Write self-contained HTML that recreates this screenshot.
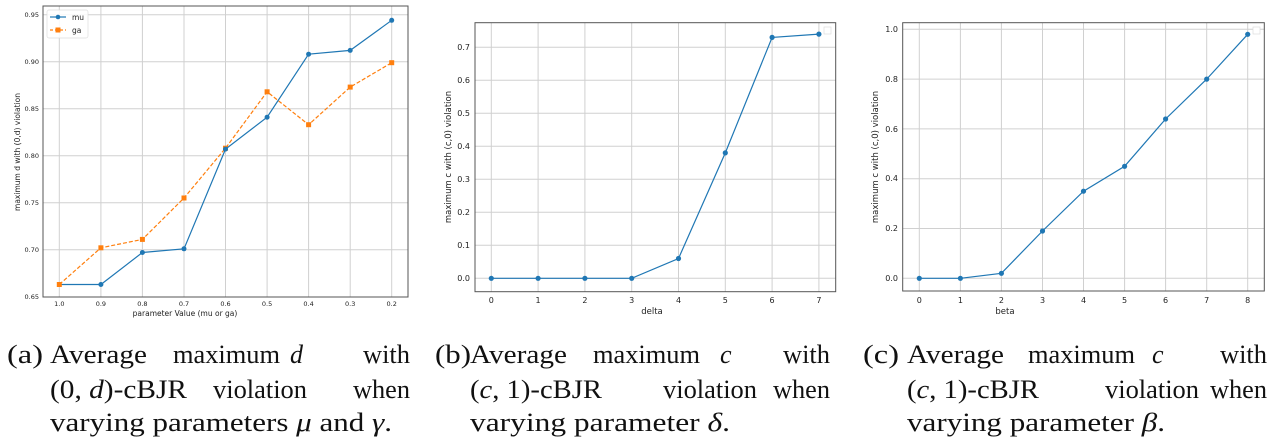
<!DOCTYPE html>
<html><head><meta charset="utf-8"><style>
html,body{margin:0;padding:0;background:#fff;width:1275px;height:439px;overflow:hidden}
svg{display:block}
.t{font-family:"DejaVu Sans","Liberation Sans",sans-serif;fill:#222}
.c{font-family:"Liberation Serif",serif;font-size:26px;fill:#111}
.g{stroke:#d0d0d0;stroke-width:1}
</style></head><body>
<svg width="1275" height="439" viewBox="0 0 1275 439" xmlns="http://www.w3.org/2000/svg">
<!-- Chart A -->
<g>
<g class="g">
<line x1="59.3" y1="6" x2="59.3" y2="297"/><line x1="100.9" y1="6" x2="100.9" y2="297"/><line x1="142.4" y1="6" x2="142.4" y2="297"/><line x1="184" y1="6" x2="184" y2="297"/><line x1="225.5" y1="6" x2="225.5" y2="297"/><line x1="267.1" y1="6" x2="267.1" y2="297"/><line x1="308.6" y1="6" x2="308.6" y2="297"/><line x1="350.2" y1="6" x2="350.2" y2="297"/><line x1="391.7" y1="6" x2="391.7" y2="297"/>
<line x1="43" y1="249.7" x2="408" y2="249.7"/><line x1="43" y1="202.7" x2="408" y2="202.7"/><line x1="43" y1="155.7" x2="408" y2="155.7"/><line x1="43" y1="108.7" x2="408" y2="108.7"/><line x1="43" y1="61.7" x2="408" y2="61.7"/><line x1="43" y1="14.7" x2="408" y2="14.7"/>
</g>
<rect x="43" y="6" width="365" height="291" fill="none" stroke="#555" stroke-width="1"/>
<g class="t" font-size="6.5" text-anchor="end">
<text x="39" y="299">0.65</text><text x="39" y="252">0.70</text><text x="39" y="205">0.75</text><text x="39" y="158">0.80</text><text x="39" y="111">0.85</text><text x="39" y="64">0.90</text><text x="39" y="17">0.95</text>
</g>
<g class="t" font-size="6.5" text-anchor="middle">
<text x="59.3" y="306">1.0</text><text x="100.9" y="306">0.9</text><text x="142.4" y="306">0.8</text><text x="184" y="306">0.7</text><text x="225.5" y="306">0.6</text><text x="267.1" y="306">0.5</text><text x="308.6" y="306">0.4</text><text x="350.2" y="306">0.3</text><text x="391.7" y="306">0.2</text>
<text x="185" y="316" font-size="7.5">parameter Value (mu or ga)</text>
</g>
<text class="t" font-size="7.5" text-anchor="middle" transform="translate(20,152) rotate(-90)">maximum d with (0,d) violation</text>
<polyline fill="none" stroke="#ff7f0e" stroke-width="1.2" stroke-dasharray="4,2" points="59.3,284.5 100.9,247.8 142.4,239.4 184,198 225.5,148.2 267.1,91.8 308.6,124.7 350.2,87.1 391.7,62.7"/>
<g fill="#ff7f0e">
<rect x="98.4" y="245.3" width="5" height="5"/><rect x="139.9" y="236.9" width="5" height="5"/><rect x="181.5" y="195.5" width="5" height="5"/><rect x="223" y="145.7" width="5" height="5"/><rect x="264.6" y="89.3" width="5" height="5"/><rect x="306.1" y="122.2" width="5" height="5"/><rect x="347.7" y="84.6" width="5" height="5"/><rect x="389.2" y="60.2" width="5" height="5"/>
</g>
<polyline fill="none" stroke="#1f77b4" stroke-width="1.2" points="59.3,284.5 100.9,284.5 142.4,252.5 184,248.8 225.5,149.1 267.1,117.2 308.6,54.2 350.2,50.4 391.7,20.3"/>
<g fill="#1f77b4">
<circle cx="100.9" cy="284.5" r="2.5"/><circle cx="142.4" cy="252.5" r="2.5"/><circle cx="184" cy="248.8" r="2.5"/><circle cx="225.5" cy="149.1" r="2.5"/><circle cx="267.1" cy="117.2" r="2.5"/><circle cx="308.6" cy="54.2" r="2.5"/><circle cx="350.2" cy="50.4" r="2.5"/><circle cx="391.7" cy="20.3" r="2.5"/>
</g>
<rect x="56.8" y="282" width="5" height="5" fill="#ff7f0e"/>
<rect x="47" y="10" width="41" height="28" fill="#fff" fill-opacity="0.85" stroke="#ddd" stroke-width="0.7" rx="2"/>
<line x1="50" y1="17" x2="66" y2="17" stroke="#1f77b4" stroke-width="1.2"/><circle cx="58" cy="17" r="2.3" fill="#1f77b4"/>
<line x1="50" y1="30" x2="66" y2="30" stroke="#ff7f0e" stroke-width="1.2" stroke-dasharray="3,2"/><rect x="55.5" y="27.5" width="5" height="5" fill="#ff7f0e"/>
<text class="t" x="72" y="20" font-size="7.5">mu</text><text class="t" x="72" y="33" font-size="7.5">ga</text>
</g>

<!-- Chart B -->
<g>
<g class="g">
<line x1="491.3" y1="22.7" x2="491.3" y2="291.7"/><line x1="538.1" y1="22.7" x2="538.1" y2="291.7"/><line x1="584.9" y1="22.7" x2="584.9" y2="291.7"/><line x1="631.7" y1="22.7" x2="631.7" y2="291.7"/><line x1="678.5" y1="22.7" x2="678.5" y2="291.7"/><line x1="725.3" y1="22.7" x2="725.3" y2="291.7"/><line x1="772.1" y1="22.7" x2="772.1" y2="291.7"/><line x1="818.9" y1="22.7" x2="818.9" y2="291.7"/>
<line x1="475" y1="278.3" x2="835.7" y2="278.3"/><line x1="475" y1="245.3" x2="835.7" y2="245.3"/><line x1="475" y1="212.3" x2="835.7" y2="212.3"/><line x1="475" y1="179.3" x2="835.7" y2="179.3"/><line x1="475" y1="146.3" x2="835.7" y2="146.3"/><line x1="475" y1="113.3" x2="835.7" y2="113.3"/><line x1="475" y1="80.3" x2="835.7" y2="80.3"/><line x1="475" y1="47.3" x2="835.7" y2="47.3"/>
</g>
<rect x="475" y="22.7" width="360.7" height="269" fill="none" stroke="#555" stroke-width="1"/>
<g class="t" font-size="8" text-anchor="end">
<text x="470" y="281">0.0</text><text x="470" y="248">0.1</text><text x="470" y="215">0.2</text><text x="470" y="182">0.3</text><text x="470" y="149">0.4</text><text x="470" y="116">0.5</text><text x="470" y="83">0.6</text><text x="470" y="50">0.7</text>
</g>
<g class="t" font-size="8" text-anchor="middle">
<text x="491.3" y="303">0</text><text x="538.1" y="303">1</text><text x="584.9" y="303">2</text><text x="631.7" y="303">3</text><text x="678.5" y="303">4</text><text x="725.3" y="303">5</text><text x="772.1" y="303">6</text><text x="818.9" y="303">7</text>
<text x="652" y="314" font-size="8.5">delta</text>
</g>
<text class="t" font-size="8.5" text-anchor="middle" transform="translate(451,157) rotate(-90)">maximum c with (c,0) violation</text>
<polyline fill="none" stroke="#1f77b4" stroke-width="1.2" points="491.3,278.3 538.1,278.3 584.9,278.3 631.7,278.3 678.5,258.5 725.3,152.9 772.1,37.4 818.9,34.1"/>
<g fill="#1f77b4">
<circle cx="491.3" cy="278.3" r="2.6"/><circle cx="538.1" cy="278.3" r="2.6"/><circle cx="584.9" cy="278.3" r="2.6"/><circle cx="631.7" cy="278.3" r="2.6"/><circle cx="678.5" cy="258.5" r="2.6"/><circle cx="725.3" cy="152.9" r="2.6"/><circle cx="772.1" cy="37.4" r="2.6"/><circle cx="818.9" cy="34.1" r="2.6"/>
</g>
<rect x="824" y="27" width="7" height="7" fill="#fff" stroke="#ddd" stroke-width="0.7"/>
</g>

<!-- Chart C -->
<g>
<g class="g">
<line x1="919.3" y1="22.7" x2="919.3" y2="291"/><line x1="960.4" y1="22.7" x2="960.4" y2="291"/><line x1="1001.4" y1="22.7" x2="1001.4" y2="291"/><line x1="1042.5" y1="22.7" x2="1042.5" y2="291"/><line x1="1083.5" y1="22.7" x2="1083.5" y2="291"/><line x1="1124.6" y1="22.7" x2="1124.6" y2="291"/><line x1="1165.6" y1="22.7" x2="1165.6" y2="291"/><line x1="1206.7" y1="22.7" x2="1206.7" y2="291"/><line x1="1247.7" y1="22.7" x2="1247.7" y2="291"/>
<line x1="902.7" y1="278.3" x2="1264.3" y2="278.3"/><line x1="902.7" y1="228.5" x2="1264.3" y2="228.5"/><line x1="902.7" y1="178.7" x2="1264.3" y2="178.7"/><line x1="902.7" y1="128.9" x2="1264.3" y2="128.9"/><line x1="902.7" y1="79.1" x2="1264.3" y2="79.1"/><line x1="902.7" y1="29.3" x2="1264.3" y2="29.3"/>
</g>
<rect x="902.7" y="22.7" width="361.6" height="268.3" fill="none" stroke="#555" stroke-width="1"/>
<g class="t" font-size="8" text-anchor="end">
<text x="898" y="281">0.0</text><text x="898" y="231">0.2</text><text x="898" y="181">0.4</text><text x="898" y="132">0.6</text><text x="898" y="82">0.8</text><text x="898" y="32">1.0</text>
</g>
<g class="t" font-size="8" text-anchor="middle">
<text x="919.3" y="303">0</text><text x="960.4" y="303">1</text><text x="1001.4" y="303">2</text><text x="1042.5" y="303">3</text><text x="1083.5" y="303">4</text><text x="1124.6" y="303">5</text><text x="1165.6" y="303">6</text><text x="1206.7" y="303">7</text><text x="1247.7" y="303">8</text>
<text x="1005" y="314" font-size="8.5">beta</text>
</g>
<text class="t" font-size="8.5" text-anchor="middle" transform="translate(878,157) rotate(-90)">maximum c with (c,0) violation</text>
<polyline fill="none" stroke="#1f77b4" stroke-width="1.2" points="919.3,278.3 960.4,278.3 1001.4,273.3 1042.5,231 1083.5,191.2 1124.6,166.3 1165.6,119 1206.7,79.1 1247.7,34.3"/>
<g fill="#1f77b4">
<circle cx="919.3" cy="278.3" r="2.6"/><circle cx="960.4" cy="278.3" r="2.6"/><circle cx="1001.4" cy="273.3" r="2.6"/><circle cx="1042.5" cy="231" r="2.6"/><circle cx="1083.5" cy="191.2" r="2.6"/><circle cx="1124.6" cy="166.3" r="2.6"/><circle cx="1165.6" cy="119" r="2.6"/><circle cx="1206.7" cy="79.1" r="2.6"/><circle cx="1247.7" cy="34.3" r="2.6"/>
</g>
<rect x="1253" y="27" width="7" height="7" fill="#fff" stroke="#ddd" stroke-width="0.7"/>
</g>

<!-- Captions -->
<g class="c">
<text x="7" y="363" textLength="36" lengthAdjust="spacingAndGlyphs">(a)</text>
<text x="50" y="363" textLength="97" lengthAdjust="spacingAndGlyphs">Average</text>
<text x="173" y="363" textLength="107" lengthAdjust="spacingAndGlyphs">maximum</text>
<text x="290" y="363" font-style="italic">d</text>
<text x="363" y="363" textLength="47" lengthAdjust="spacingAndGlyphs">with</text>
<text x="50" y="398" textLength="137" lengthAdjust="spacingAndGlyphs">(0, <tspan font-style="italic">d</tspan>)-cBJR</text>
<text x="213" y="398" textLength="94" lengthAdjust="spacingAndGlyphs">violation</text>
<text x="353" y="398" textLength="57" lengthAdjust="spacingAndGlyphs">when</text>
<text x="50" y="431" textLength="342" lengthAdjust="spacingAndGlyphs">varying parameters <tspan font-style="italic">μ</tspan> and <tspan font-style="italic">γ</tspan>.</text>

<text x="435" y="363" textLength="36" lengthAdjust="spacingAndGlyphs">(b)</text>
<text x="470" y="363" textLength="97" lengthAdjust="spacingAndGlyphs">Average</text>
<text x="593" y="363" textLength="107" lengthAdjust="spacingAndGlyphs">maximum</text>
<text x="720" y="363" font-style="italic">c</text>
<text x="783" y="363" textLength="47" lengthAdjust="spacingAndGlyphs">with</text>
<text x="470" y="398" textLength="132" lengthAdjust="spacingAndGlyphs">(<tspan font-style="italic">c</tspan>, 1)-cBJR</text>
<text x="663" y="398" textLength="94" lengthAdjust="spacingAndGlyphs">violation</text>
<text x="773" y="398" textLength="57" lengthAdjust="spacingAndGlyphs">when</text>
<text x="470" y="431" textLength="260" lengthAdjust="spacingAndGlyphs">varying parameter <tspan font-style="italic">δ</tspan>.</text>

<text x="863" y="363" textLength="36" lengthAdjust="spacingAndGlyphs">(c)</text>
<text x="907" y="363" textLength="97" lengthAdjust="spacingAndGlyphs">Average</text>
<text x="1028" y="363" textLength="107" lengthAdjust="spacingAndGlyphs">maximum</text>
<text x="1152" y="363" font-style="italic">c</text>
<text x="1220" y="363" textLength="47" lengthAdjust="spacingAndGlyphs">with</text>
<text x="907" y="398" textLength="132" lengthAdjust="spacingAndGlyphs">(<tspan font-style="italic">c</tspan>, 1)-cBJR</text>
<text x="1105" y="398" textLength="94" lengthAdjust="spacingAndGlyphs">violation</text>
<text x="1210" y="398" textLength="57" lengthAdjust="spacingAndGlyphs">when</text>
<text x="907" y="431" textLength="258" lengthAdjust="spacingAndGlyphs">varying parameter <tspan font-style="italic">β</tspan>.</text>
</g>
</svg>
</body></html>
